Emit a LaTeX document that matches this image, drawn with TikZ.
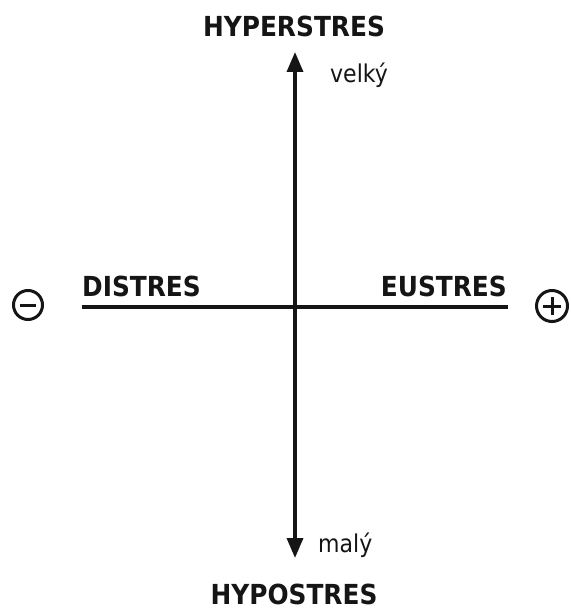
\documentclass[tikz,border=0pt]{standalone}
\usepackage{fontspec}
\setmainfont{DejaVu Sans}
\newfontfamily\condfont{DejaVu Sans Condensed}
\usetikzlibrary{arrows.meta}
\definecolor{ink}{HTML}{151515}
\begin{document}
\begin{tikzpicture}[x=1pt,y=-1pt,
  axis/.style={draw=ink,line width=3.4pt},
  head/.style={-{Triangle[length=20pt,width=16pt]}},
  big/.style={font=\condfont\fontsize{27.6}{30}\selectfont\bfseries,text=ink,inner sep=0pt},
  small/.style={font=\condfont\fontsize{24.5}{27}\selectfont,text=ink,inner sep=0pt},
  sign/.style={draw=ink,line width=3pt}]
\useasboundingbox (0,0) rectangle (570,612);
\coordinate (c) at (295,307);
\coordinate (top) at (295,52);
\coordinate (bot) at (295,558);
\coordinate (l) at (82,307);
\coordinate (r) at (508,307);
\draw[axis,head] (c) -- (top);
\draw[axis,head] (c) -- (bot);
\draw[axis] (l) -- (r);
\node[big,anchor=base] (hyper) at (294,37) {HYPERSTRES};
\node[big,anchor=base] (hypo) at (294,604) {HYPOSTRES};
\node[big,anchor=base west] (dis) at (82,296) {DISTRES};
\node[big,anchor=base east] (eu) at (507,296) {EUSTRES};
\node[small,anchor=base west] (velky) at (330,83) {velký};
\node[small,anchor=base west] (maly) at (318,552) {malý};
\node[sign,circle,minimum size=29pt,inner sep=0pt] (minus) at (28,305) {};
\draw[sign] ([xshift=-8pt]minus.center) -- ([xshift=8pt]minus.center);
\node[sign,circle,minimum size=31pt,inner sep=0pt] (plus) at (552,306) {};
\draw[sign] ([xshift=-9pt]plus.center) -- ([xshift=9pt]plus.center);
\draw[sign] ([yshift=-9pt]plus.center) -- ([yshift=9pt]plus.center);
\end{tikzpicture}
\end{document}
